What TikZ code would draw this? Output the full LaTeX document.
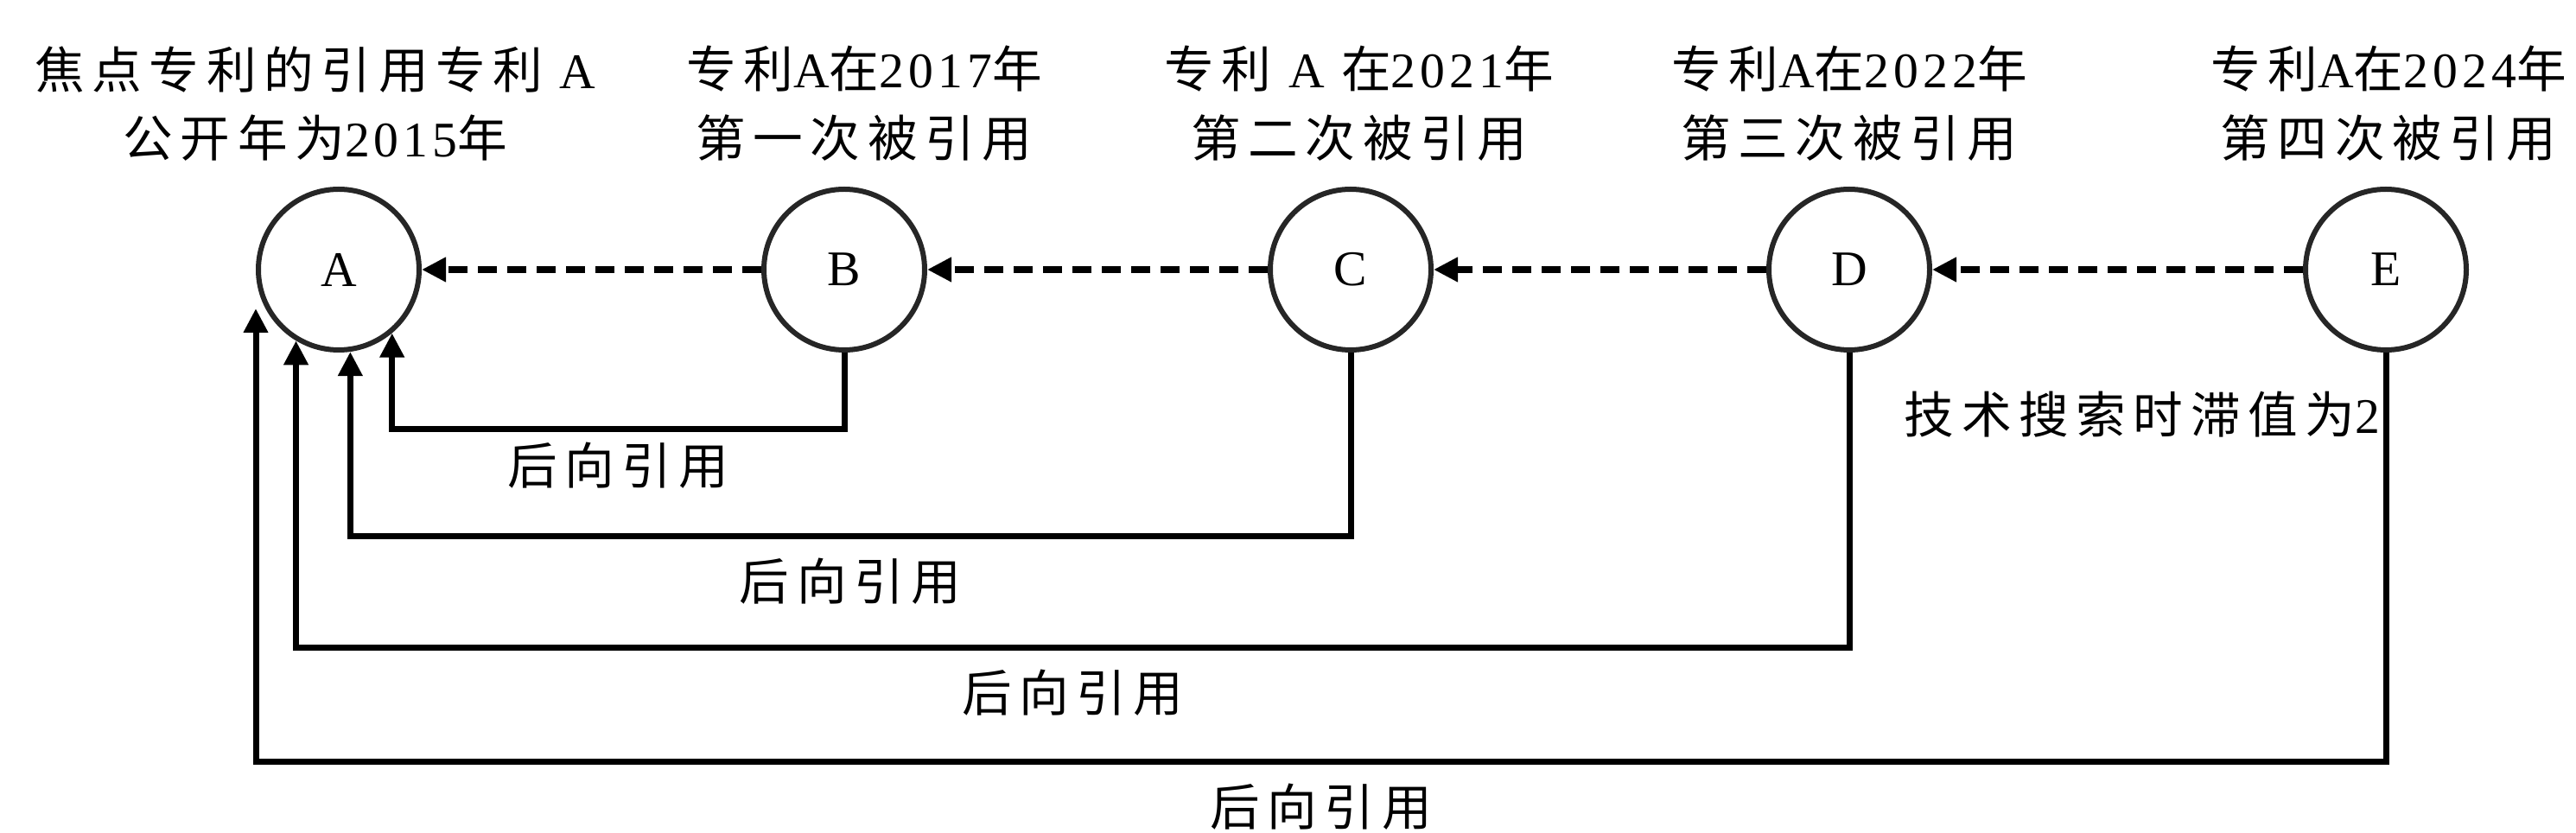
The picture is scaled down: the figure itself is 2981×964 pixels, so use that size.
\documentclass[tikz,border=0pt]{standalone}
\usepackage{fontspec}
\setmainfont[LetterSpace=9]{Liberation Serif}
\newfontfamily\cjk[LetterSpace=15]{Noto Sans CJK SC}
\newcommand{\zh}[1]{{\cjk #1}}
\usetikzlibrary{arrows.meta}
\tikzset{x=0.1mm, y=-0.1mm}
\tikzset{
 pat/.style={circle, draw=black!85, line width=0.6mm, minimum size=18.6mm, inner sep=0pt},
 cite/.style={-{Triangle[length=2.8mm,width=2.7mm]}, line width=0.7mm},
 cited/.style={cite, line width=0.8mm, dash pattern=on 2.2mm off 1.2mm},
 lbl/.style={align=center}
}

\begin{document}
\begin{tikzpicture}[font={\fontsize{16.4}{22.7}\selectfont}]
\useasboundingbox (0,0) rectangle (2981,964);
\foreach \n/\x in {A/392,B/977,C/1563,D/2140,E/2761} % the patents
\node[pat] (\n) at (\x,312) {\n};
\foreach \a/\b in {B/A,C/B,D/C,E/D}
\draw[cited] (\a) -- (\b);
% backward citations
\draw[cite] (B.south) -- ++(0,89) -| node[pos=.25,below] (bB) {\zh{后向引用}} (A.-50);
\draw[cite] (C.south) -- ++(0,213) -| node[pos=.25,below=1mm] (bC) {\zh{后向引用}} (A.-82);
\draw[cite] (D.south) -- ++(0,342) -| node[pos=.25,below=1mm] (bD) {\zh{后向引用}} (A.-121);
\draw[cite] (E.south) -- ++(0,474) -| node[pos=.25,below=1mm] (bE) {\zh{后向引用}} ([yshift=-4.5mm]A.west);
\node (lag) at (2479,480) {\zh{技术搜索时滞值为}2};
% labels on top
\node[lbl] (tA) at (365,120) {\zh{焦点专利的引用专利} A\\\zh{公开年为}2015\zh{年}};
\node[lbl] (tB) at (1000,120) {\zh{专利}A\zh{在}2017\zh{年}\\\zh{第一次被引用}};
\node[lbl] (tC) at (1573,120) {\zh{专利} A \zh{在}2021\zh{年}\\\zh{第二次被引用}};
\node[lbl] (tD) at (2140,120) {\zh{专利}A\zh{在}2022\zh{年}\\\zh{第三次被引用}};
\node[lbl] (tE) at (2764,120) {\zh{专利}A\zh{在}2024\zh{年}\\\zh{第四次被引用}};
\end{tikzpicture}
\end{document}
